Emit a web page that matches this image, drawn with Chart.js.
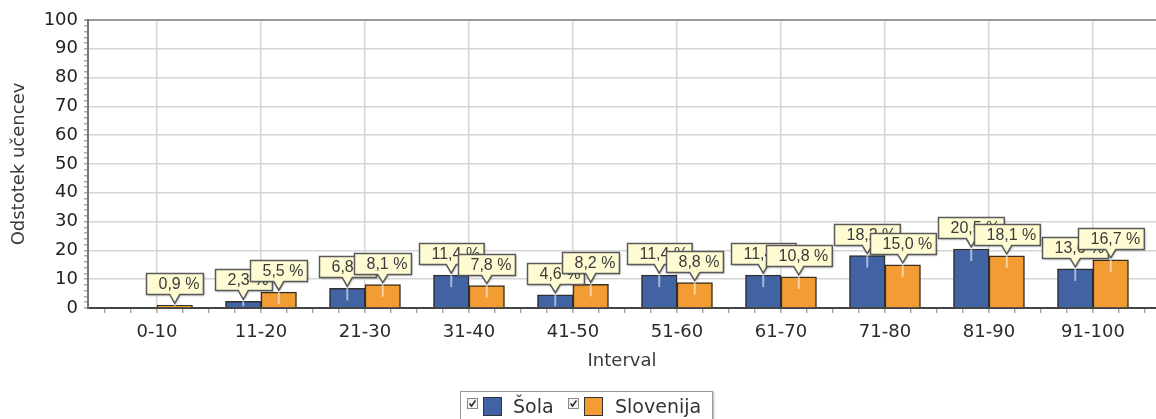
<!DOCTYPE html>
<html>
<head>
<meta charset="utf-8">
<script src="https://cdn.jsdelivr.net/npm/chart.js@4.4.1/dist/chart.umd.min.js"></script>
<style>
    body { margin: 0; background: #fff; }
    #wrap { position: relative; width: 1156px; height: 419px; overflow: hidden; }
    #legend {
        position: absolute; left: 460px; top: 391px; width: 251px; height: 34px;
        border: 1px solid #999; background: #fff;
        box-shadow: 1px 1px 2px rgba(0, 0, 0, 0.3);
        font-family: "DejaVu Sans", Verdana, sans-serif; font-size: 19px; color: #333;
    }
    #legend .chk {
        position: absolute; top: 6px; width: 9px; height: 9px;
        border: 1px solid #888; background: #f4f4f4;
    }
    #legend .chk svg { position: absolute; left: 0; top: 0; }
    #legend .swatch {
        position: absolute; top: 5px; width: 17px; height: 17px;
        border: 1px solid #333;
    }
    #legend .txt { position: absolute; top: 3px; line-height: 22px; }
</style>
</head>
<body>
<div id="wrap">
    <canvas id="intervalChart"></canvas>
    <div id="legend"></div>
</div>
<script>
// Categories and values (percent of pupils per score interval)
const intervals = ['0-10', '11-20', '21-30', '31-40', '41-50', '51-60', '61-70', '71-80', '81-90', '91-100'];
const sola = [0, 2.3, 6.8, 11.4, 4.6, 11.4, 11.4, 18.2, 20.5, 13.6];
const slovenija = [0.9, 5.5, 8.1, 7.8, 8.2, 8.8, 10.8, 15.0, 18.1, 16.7];
const seriesNames = ['Šola', 'Slovenija'];
const seriesColors = ['#4163a4', '#f39c34'];

document.addEventListener('DOMContentLoaded', function() {
    buildLegend();
    initIntervalChart();
});

/**
 * Legend with checkboxes under the chart
 */
function buildLegend() {
    const legend = document.getElementById('legend');
    const lefts = [[6, 22, 52], [107, 123, 154]];
    seriesNames.forEach((name, i) => {
        const [cx, sx, tx] = lefts[i];
        legend.insertAdjacentHTML('beforeend',
            '<span class="chk" style="left:' + cx + 'px">' +
            '<svg width="9" height="9"><polyline points="1.5,4.5 3.5,7 7.5,1.5" fill="none" stroke="#222" stroke-width="1.4"/></svg></span>' +
            '<span class="swatch" style="left:' + sx + 'px;background:' + seriesColors[i] + '"></span>' +
            '<span class="txt" style="left:' + tx + 'px">' + name + '</span>');
    });
}

/**
 * Callout boxes above the bars
 */
const calloutPlugin = {
    id: 'callouts',
    afterDatasetsDraw(chart) {
        const ctx = chart.ctx;
        ctx.save();
        ctx.font = '16px "Liberation Sans", Arial, sans-serif';
        ctx.textBaseline = 'middle';
        chart.data.datasets.forEach((ds, di) => {
            const meta = chart.getDatasetMeta(di);
            meta.data.forEach((bar, i) => {
                const v = ds.data[i].y;
                if (!v) return;
                const text = v.toFixed(1).replace('.', ',') + ' %';
                const tw = ctx.measureText(text).width;
                const bw = tw + 16;
                const x = bar.x;
                const top = bar.y;
                const bx = Math.round(x - bw / 2) + 0.5;
                const by = Math.round(top - 32) + 0.5;
                const bh = 21;

                // light streak inside the bar
                ctx.strokeStyle = 'rgba(255,255,255,0.55)';
                ctx.lineWidth = 2;
                ctx.beginPath();
                ctx.moveTo(x, top - 2);
                ctx.lineTo(x, Math.min(top + 12, bar.base - 1));
                ctx.stroke();

                ctx.beginPath();
                ctx.moveTo(bx, by);
                ctx.lineTo(bx + bw, by);
                ctx.lineTo(bx + bw, by + bh);
                ctx.lineTo(x + 5, by + bh);
                ctx.lineTo(x, top - 2);
                ctx.lineTo(x - 5, by + bh);
                ctx.lineTo(bx, by + bh);
                ctx.closePath();
                ctx.shadowColor = 'rgba(0,0,0,0.35)';
                ctx.shadowOffsetX = 1;
                ctx.shadowOffsetY = 1;
                ctx.shadowBlur = 2;
                ctx.fillStyle = '#fffcd4';
                ctx.fill();
                ctx.shadowColor = 'transparent';
                ctx.strokeStyle = '#5a5a5a';
                ctx.lineWidth = 1.5;
                ctx.stroke();

                ctx.fillStyle = '#3a3a3a';
                ctx.textAlign = 'left';
                ctx.fillText(text, bx + 12, by + bh / 2 + 1);
            });
        });
        ctx.restore();
    }
};

function initIntervalChart() {
    const ctx = document.getElementById('intervalChart');
    if (!ctx) return;

    const xMinor = [];
    for (let q = -2; q <= 38; q++) xMinor.push(q / 4);
    const yMinor = [];
    for (let y = 0; y <= 100; y += 2) yMinor.push(y);

    new Chart(ctx, {
        type: 'bar',
        data: {
            datasets: [
                {
                    label: seriesNames[0],
                    data: sola.map((v, i) => ({ x: i, y: v })),
                    backgroundColor: seriesColors[0],
                    borderColor: '#2f2f2f',
                    borderWidth: 1.5,
                    borderSkipped: 'start'
                },
                {
                    label: seriesNames[1],
                    data: slovenija.map((v, i) => ({ x: i, y: v })),
                    backgroundColor: seriesColors[1],
                    borderColor: '#3a3020',
                    borderWidth: 1.5,
                    borderSkipped: 'start'
                }
            ]
        },
        options: {
            responsive: true,
            maintainAspectRatio: false,
            animation: false,
            barThickness: 35.5,
            layout: { padding: { left: 0, right: 0, top: 20, bottom: 47 } },
            plugins: {
                legend: { display: false },
                tooltip: { enabled: false }
            },
            scales: {
                x: {
                    type: 'linear',
                    min: -0.6635,
                    max: 9.606,
                    offset: false,
                    afterBuildTicks: scale => { scale.ticks = xMinor.map(v => ({ value: v })); },
                    afterFit: scale => { scale.height = 64; },
                    grid: {
                        offset: false,
                        lineWidth: 1.5,
                        color: c => Number.isInteger(c.tick.value) ? '#d6d6d6' : 'rgba(0,0,0,0)',
                        tickColor: '#aaa',
                        tickLength: 5
                    },
                    border: { color: '#444', width: 2 },
                    ticks: {
                        autoSkip: false,
                        maxRotation: 0,
                        padding: 9,
                        color: '#2a2a2a',
                        font: { family: '"DejaVu Sans", Verdana, sans-serif', size: 18 },
                        callback: v => Number.isInteger(v) && v >= 0 && v < intervals.length ? intervals[v] : ''
                    },
                    title: {
                        display: true,
                        text: 'Interval',
                        color: '#3a3a3a',
                        padding: 0,
                        font: { family: '"DejaVu Sans", Verdana, sans-serif', size: 18 }
                    }
                },
                y: {
                    min: 0,
                    max: 100,
                    afterBuildTicks: scale => { scale.ticks = yMinor.map(v => ({ value: v })); },
                    afterFit: scale => { scale.width = 88; },
                    grid: {
                        lineWidth: c => c.tick.value === 100 ? 2 : 1.5,
                        color: c => c.tick.value === 100 ? '#9a9a9a' : (c.tick.value % 10 === 0 ? '#d6d6d6' : 'rgba(0,0,0,0)'),
                        tickColor: '#aaa',
                        tickLength: 4
                    },
                    border: { color: '#777', width: 2 },
                    ticks: {
                        autoSkip: false,
                        padding: 6,
                        color: '#222',
                        font: { family: '"DejaVu Sans", Verdana, sans-serif', size: 18 },
                        callback: v => v % 10 === 0 ? v : ''
                    },
                    title: {
                        display: true,
                        text: 'Odstotek učencev',
                        color: '#3a3a3a',
                        padding: { top: 9, bottom: 0 },
                        font: { family: '"DejaVu Sans", Verdana, sans-serif', size: 18 }
                    }
                }
            }
        },
        plugins: [calloutPlugin]
    });
}
</script>
</body>
</html>
